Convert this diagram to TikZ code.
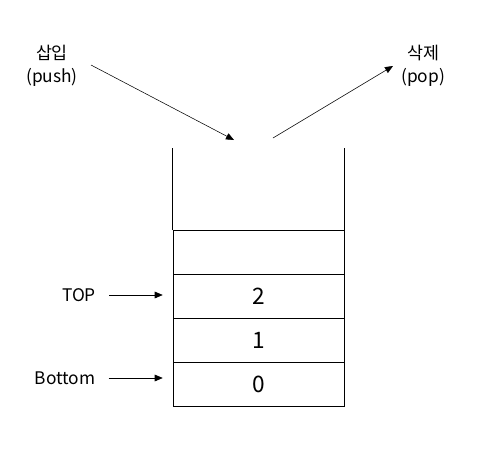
\documentclass[tikz,border=0pt]{standalone}
\usepackage{fontspec}
\setmainfont{Noto Sans CJK KR}
\usetikzlibrary{arrows.meta}

\begin{document}
\begin{tikzpicture}[x=0.75pt,y=-0.75pt,
    cell/.style={draw, minimum width=128.25pt, minimum height=33pt, inner sep=0pt, font=\fontsize{17}{20}\selectfont},
    lbl/.style={inner sep=0pt, font=\fontsize{13}{17}\selectfont, align=center},
    >={Triangle[length=6pt,width=5pt]}]

        \useasboundingbox (0,0) rectangle (489,455);

        % stack cells
        \node[cell] (c0) at (258.5,384.5) {0};
        \node[cell] (c1) at (258.5,340.5) {1};
        \node[cell] (c2) at (258.5,296.5) {2};
        \node[cell] (c3) at (258.5,252.5) {};
        \draw (c3.north west) -- ++(0,-82);
        \draw (c3.north east) -- ++(0,-82);

        % pointers
        \node[lbl] (top) at (79,295) {TOP};
        \node[lbl] (bottom) at (65,378) {Bottom};
        \draw[->] ([xshift=9.75pt]top.east) -- ([xshift=-7.5pt]top.east -| c2.west);
        \draw[->] ([xshift=9.75pt]bottom.east) -- ([xshift=-7.5pt]bottom.east -| c0.west);

        % push / pop
        \node[lbl] (push) at (52,66) {삽입\\(push)};
        \node[lbl] (pop) at (423,66) {삭제\\(pop)};
        \coordinate (pushfrom) at (91,65);
        \coordinate (pushto) at (234,140);
        \coordinate (popfrom) at (273,138);
        \coordinate (popto) at (393,66);
        \draw[->] (pushfrom) -- (pushto);
        \draw[->] (popfrom) -- (popto);

\end{tikzpicture}
\end{document}
